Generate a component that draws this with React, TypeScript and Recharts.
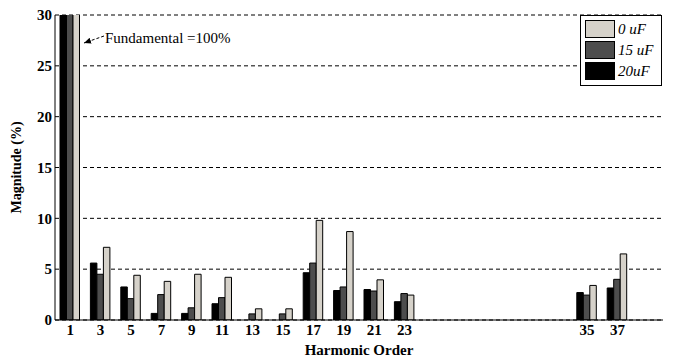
import { BarChart, Bar, XAxis, YAxis, CartesianGrid } from "recharts";

const harmonics = [1, 3, 5, 7, 9, 11, 13, 15, 17, 19, 21, 23, 35, 37];
const uF20 = [100, 5.6, 3.25, 0.65, 0.65, 1.6, 0, 0, 4.65, 2.9, 3.0, 1.8, 2.7, 3.15];
const uF15 = [100, 4.5, 2.1, 2.5, 1.2, 2.2, 0.6, 0.6, 5.6, 3.25, 2.85, 2.6, 2.45, 4.0];
const uF0 = [100, 7.15, 4.4, 3.8, 4.5, 4.2, 1.1, 1.1, 9.8, 8.7, 3.95, 2.45, 3.4, 6.5];
const yTicks = [0, 5, 10, 15, 20, 25, 30];

const data = harmonics.map((h, i) => ({ h, c20: uF20[i], c15: uF15[i], c0: uF0[i] }));

const series = [
  { key: "c20", name: "20uF", color: "#000000" },
  { key: "c15", name: "15 uF", color: "#4d4d4d" },
  { key: "c0", name: "0 uF", color: "#d6d2ca" },
];

const serif = "Liberation Serif";
const tickStyle = { fontSize: 15, fontWeight: "bold", fill: "#000", fontFamily: serif };

export default function App() {
  return (
    <div style={{ position: "absolute", left: 0, top: 0, width: 673, height: 359, background: "#fff" }}>
      <BarChart
        width={673}
        height={359}
        data={data}
        margin={{ top: 15, right: 10, left: 0, bottom: 0 }}
        barGap={0}
        barSize={6.5}
      >
        <CartesianGrid vertical={false} stroke="#000" strokeDasharray="4 3" />
        <XAxis
          dataKey="h"
          type="number"
          domain={[0, 40]}
          ticks={harmonics}
          interval={0}
          height={39}
          tickLine={false}
          tickSize={2}
          axisLine={{ stroke: "#000" }}
          tick={tickStyle}
          label={{ value: "Harmonic Order", position: "insideBottom", offset: 4, style: { ...tickStyle, fontSize: 15 } }}
        />
        <XAxis
          xAxisId="top"
          orientation="top"
          dataKey="h"
          type="number"
          domain={[0, 40]}
          ticks={harmonics}
          interval={0}
          height={0}
          mirror
          tick={false}
          tickSize={5}
          tickLine={{ stroke: "#000" }}
          axisLine={{ stroke: "#000" }}
        />
        <YAxis
          domain={[0, 30]}
          allowDataOverflow
          ticks={yTicks}
          width={55}
          tickLine={false}
          tickSize={0}
          tickMargin={3}
          axisLine={{ stroke: "#000" }}
          tick={tickStyle}
          label={{ value: "Magnitude (%)", angle: -90, position: "insideLeft", offset: 16, style: { ...tickStyle, fontSize: 14, textAnchor: "middle" } }}
        />
        <YAxis
          yAxisId="right"
          orientation="right"
          domain={[0, 30]}
          width={0}
          tick={false}
          tickLine={false}
          axisLine={{ stroke: "#000" }}
        />
        {series.map((s) => (
          <Bar
            key={s.key}
            dataKey={s.key}
            name={s.name}
            fill={s.color}
            stroke="#000"
            strokeWidth={1}
            isAnimationActive={false}
          />
        ))}
      </BarChart>

      <svg width={673} height={359} style={{ position: "absolute", left: 0, top: 0, pointerEvents: "none" }}>
        <defs>
          <marker id="arr" markerWidth="8" markerHeight="8" refX="7" refY="4" orient="auto">
            <path d="M0,1 L7,4 L0,7 Z" fill="#000" />
          </marker>
        </defs>
        <line x1={104} y1={36} x2={84} y2={43} stroke="#000" strokeWidth={1} strokeDasharray="3 2" markerEnd="url(#arr)" />
        <text x={105} y={43} style={{ fontFamily: serif, fontSize: 15 }} fill="#000">
          Fundamental =100%
        </text>
      </svg>

      <div
        style={{
          position: "absolute",
          left: 580,
          top: 15,
          width: 80,
          height: 69,
          border: "1px solid #000",
          background: "#fff",
          fontFamily: serif,
          fontStyle: "italic",
          fontSize: 15,
        }}
      >
        {[...series].reverse().map((s, i) => (
          <div key={s.key} style={{ position: "absolute", left: 4, top: 4 + i * 21, display: "flex", alignItems: "center" }}>
            <div style={{ width: 28, height: 16, background: s.color, border: "1px solid #000", marginRight: 3 }} />
            <span style={{ lineHeight: "16px" }}>{s.name}</span>
          </div>
        ))}
      </div>
    </div>
  );
}
